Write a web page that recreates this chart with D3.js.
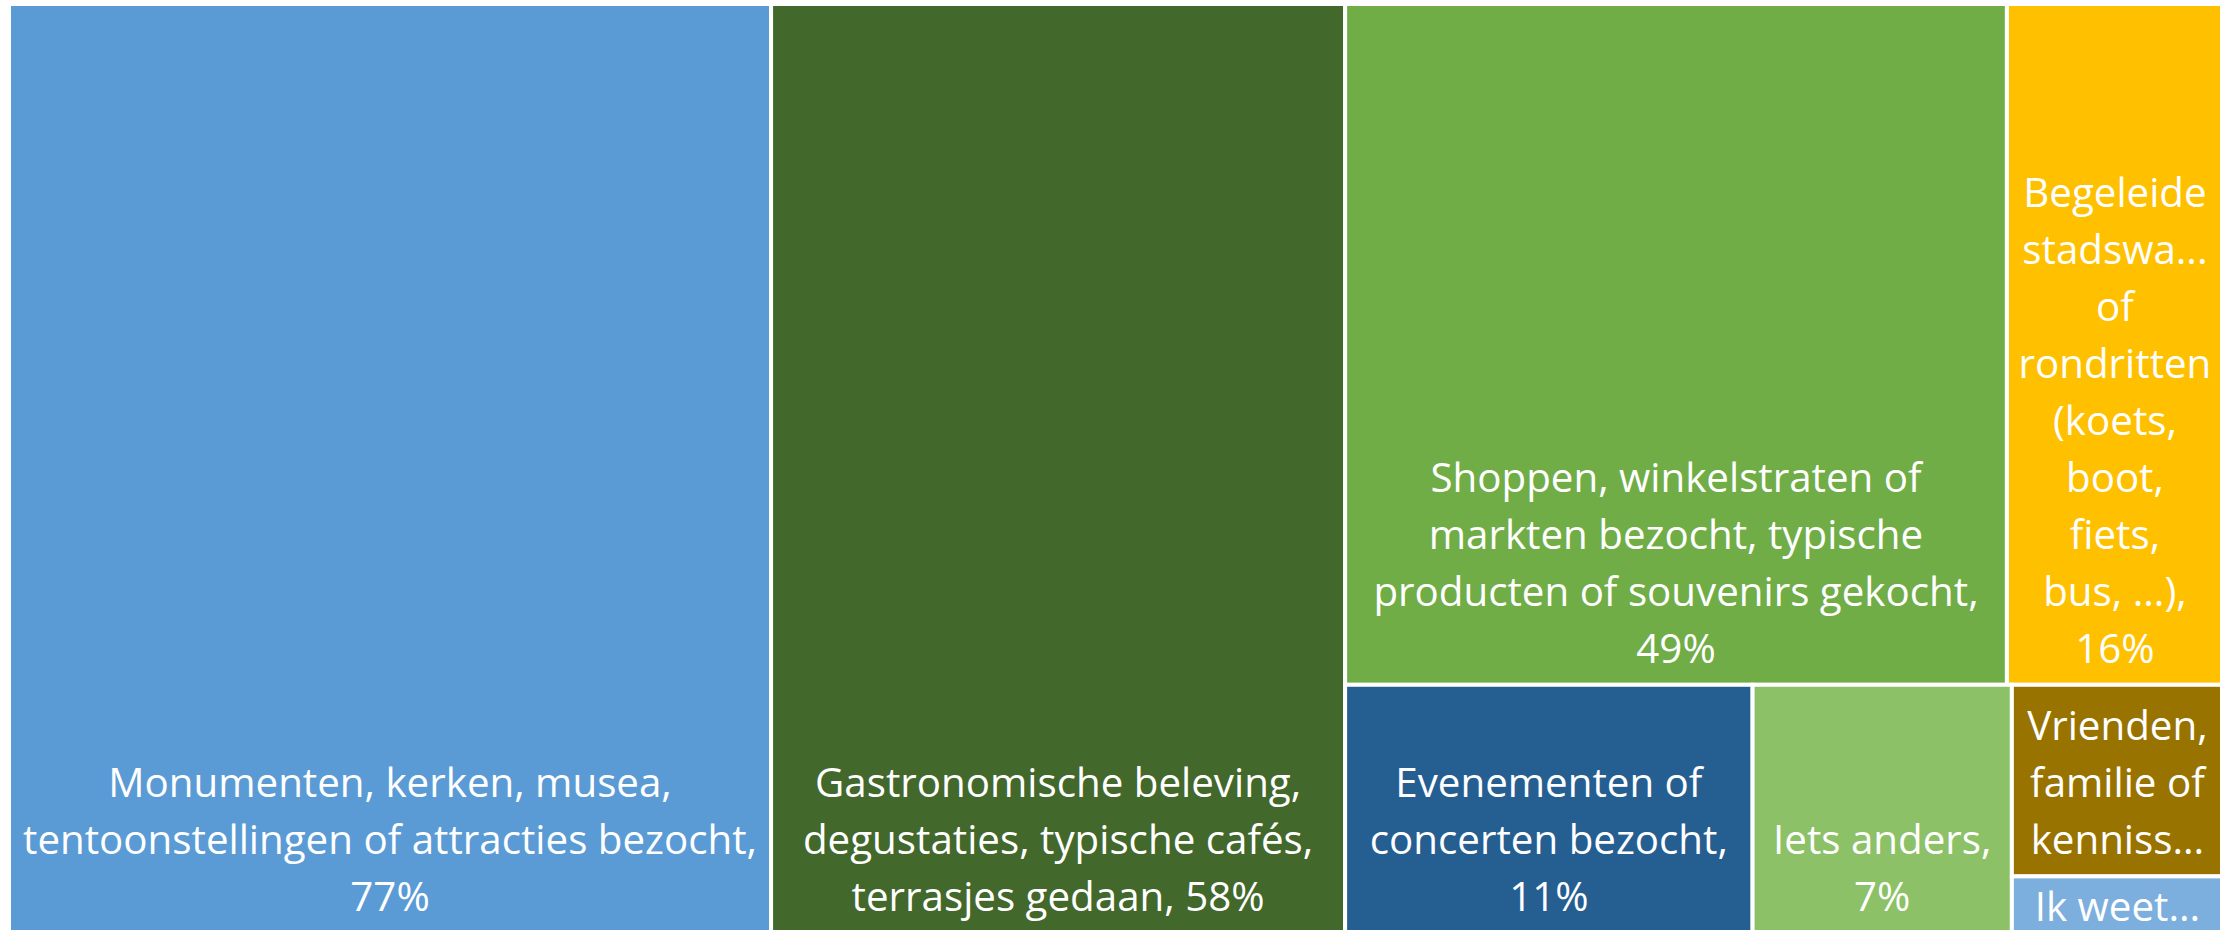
<!DOCTYPE html>
<html>
<head>
<meta charset="utf-8">
<script src="https://cdn.jsdelivr.net/npm/d3@7"></script>
<style>
  html, body { margin: 0; padding: 0; background: #ffffff; overflow: hidden; }
  svg { display: block; }
</style>
</head>
<body>
<svg id="chart" width="2220" height="930"></svg>
<script>
// Activities undertaken during the visit (share of respondents, %)
const categories = [
  "Monumenten, kerken, musea, tentoonstellingen of attracties bezocht",
  "Gastronomische beleving, degustaties, typische cafés, terrasjes gedaan",
  "Shoppen, winkelstraten of markten bezocht, typische producten of souvenirs gekocht",
  "Begeleide stadswandelingen of rondritten (koets, boot, fiets, bus, ...)",
  "Evenementen of concerten bezocht",
  "Iets anders",
  "Vrienden, familie of kennissen bezocht",
  "Ik weet het niet"
];
const percentages = [77, 58, 49, 16, 11, 7, 4.4, 1.3];
const colors = ["#5B9BD5", "#43682B", "#70AD47", "#FFC000", "#255E91", "#8CC168", "#997300", "#7CAFDD"];

const svg = d3.select("#chart");
const margin = { left: 9, top: 4 };
const W = 2214, H = 929;

const FONT = "'Open Sans', 'Noto Sans', sans-serif";
const FONT_SIZE = 40.3;
const LINE = 57;      // distance between baselines
const ASCENT = 43;    // baseline offset inside a line box
const PAD_X = 10.5;
const PAD_BOTTOM = 8;
const PAD_TOP = 2;

// Squarified strips, laid along the short side of the free area.
// Tall cells are penalised half as much as wide ones, which keeps
// wrapped labels readable in the narrower columns.
function stripTile(parent, x0, y0, x1, y1) {
  const nodes = parent.children;
  let remaining = parent.value, i0 = 0;
  const shape = (w, h) => (w >= h ? w / h : 0.5 * h / w);
  while (i0 < nodes.length) {
    const dx = x1 - x0, dy = y1 - y0;
    const vertical = dx >= dy;
    const worst = i1 => {
      const row = nodes.slice(i0, i1);
      const sum = d3.sum(row, d => d.value);
      const thick = (vertical ? dx : dy) * sum / remaining;
      const len = vertical ? dy : dx;
      return d3.max(row, d => vertical
        ? shape(thick, len * d.value / sum)
        : shape(len * d.value / sum, thick));
    };
    let i1 = i0 + 1, best = worst(i1);
    while (i1 < nodes.length) {
      const next = worst(i1 + 1);
      if (next > best) break;
      best = next; i1++;
    }
    const row = { children: nodes.slice(i0, i1) };
    row.value = d3.sum(row.children, d => d.value);
    if (vertical) {
      const xe = i1 >= nodes.length ? x1 : x0 + dx * row.value / remaining;
      d3.treemapSlice(row, x0, y0, xe, y1);
      x0 = xe;
    } else {
      const ye = i1 >= nodes.length ? y1 : y0 + dy * row.value / remaining;
      d3.treemapDice(row, x0, y0, x1, ye);
      y0 = ye;
    }
    remaining -= row.value;
    i0 = i1;
  }
}

const data = {
  name: "root",
  children: categories.map((name, i) => ({ name, value: percentages[i], color: colors[i] }))
};

const root = d3.hierarchy(data)
  .sum(d => d.value || 0)
  .sort((a, b) => b.value - a.value);

d3.treemap().tile(stripTile).size([W, H]).round(false)(root);

const g = svg.append("g").attr("transform", `translate(${margin.left},${margin.top})`);

const leaves = root.leaves();

const cell = g.selectAll("g.cell")
  .data(leaves)
  .join("g")
  .attr("class", "cell");

cell.append("rect")
  .attr("x", d => d.x0)
  .attr("y", d => d.y0)
  .attr("width", d => d.x1 - d.x0)
  .attr("height", d => d.y1 - d.y0)
  .attr("fill", d => d.data.color)
  .attr("stroke", "#ffffff")
  .attr("stroke-width", 4);

// Text measuring helper
const probe = svg.append("text")
  .attr("font-family", FONT)
  .attr("font-size", FONT_SIZE)
  .attr("visibility", "hidden");
const measure = s => { probe.text(s); return probe.node().getComputedTextLength(); };

function trimToFit(s, avail) {
  if (measure(s) <= avail) return s;
  let t = s;
  while (t.length > 1 && measure(t + "...") > avail) t = t.slice(0, -1);
  return t.replace(/\s+$/, "") + "...";
}

// Split into breakable units; no break is allowed before closing
// punctuation such as "...)" so it stays with the preceding word.
function tokens(text) {
  const out = [];
  text.split(/\s+/).forEach(w => {
    if (out.length && /^[.,;:!?)\]]/.test(w)) out[out.length - 1] += " " + w;
    else out.push(w);
  });
  return out;
}

function wrapLabel(text, avail, maxLines) {
  const words = tokens(text);
  const lines = [];
  let cur = "";
  words.forEach(w => {
    const test = cur ? cur + " " + w : w;
    if (measure(test) <= avail) {
      cur = test;
    } else {
      if (cur) lines.push(cur);
      cur = measure(w) <= avail ? w : trimToFit(w, avail);
    }
  });
  if (cur) lines.push(cur);
  if (lines.length > maxLines) {
    const kept = lines.slice(0, maxLines);
    const last = kept[maxLines - 1] + "...";
    kept[maxLines - 1] = measure(last) <= avail ? last : trimToFit(last, avail);
    return kept;
  }
  return lines;
}

cell.each(function(d) {
  const w = d.x1 - d.x0, h = d.y1 - d.y0;
  const avail = w - 2 * PAD_X;
  const maxLines = Math.max(1, Math.floor((h - 10) / LINE));
  const label = `${d.data.name}, ${d3.format(".0f")(d.data.value)}%`;
  const lines = wrapLabel(label, avail, maxLines);
  const blockH = lines.length * LINE;
  const top = Math.max(d.y0 + PAD_TOP, d.y1 - PAD_BOTTOM - blockH);
  const cx = (d.x0 + d.x1) / 2;
  const t = d3.select(this).append("text")
    .attr("font-family", FONT)
    .attr("font-size", FONT_SIZE)
    .attr("fill", "#ffffff")
    .attr("text-anchor", "middle");
  lines.forEach((ln, i) => {
    t.append("tspan")
      .attr("x", cx)
      .attr("y", top + ASCENT + i * LINE)
      .text(ln);
  });
});

probe.remove();
</script>
</body>
</html>
